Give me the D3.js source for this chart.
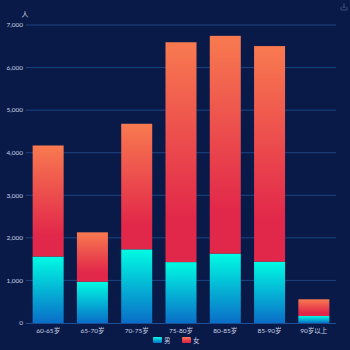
<!DOCTYPE html>
<html><head><meta charset="utf-8">
<script src="https://cdn.jsdelivr.net/npm/d3@7"></script>
<style>html,body{margin:0;padding:0;background:#0a1a48;}svg{display:block;}</style>
</head><body><svg id="c" width="350" height="350"></svg>
<script>
const categories = ["60-65岁","65-70岁","70-75岁","75-80岁","80-85岁","85-90岁","90岁以上"];
const male = [1560, 970, 1730, 1430, 1630, 1440, 165];
const female = [2610, 1160, 2950, 5165, 5115, 5065, 392];
const yTicks = [0,1000,2000,3000,4000,5000,6000,7000];
const seriesNames = ["男","女"];

const svg = d3.select("#c");
svg.append("rect").attr("width",350).attr("height",350).attr("fill","#0a1a48");
const m = {l:26, r:14, t:25, b:27};
const W = 350, H = 350;
const x = d3.scaleBand().domain(categories).range([m.l, W-m.r]).paddingInner(0.3).paddingOuter(0.15);
const y = d3.scaleLinear().domain([0,7000]).range([H-m.b, m.t]);

const defs = svg.append("defs");
const gm = defs.append("linearGradient").attr("id","gm").attr("x1",0).attr("y1",0).attr("x2",0).attr("y2",1);
gm.append("stop").attr("offset",0).attr("stop-color","#00fbe3");
gm.append("stop").attr("offset",1).attr("stop-color","#0a6ec8");
const gf = defs.append("linearGradient").attr("id","gf").attr("x1",0).attr("y1",0).attr("x2",0).attr("y2",1);
gf.append("stop").attr("offset",0).attr("stop-color","#f87a50");
gf.append("stop").attr("offset",0.8).attr("stop-color","#e2284a");
gf.append("stop").attr("offset",1).attr("stop-color","#e2284a");

// grid
svg.append("g").selectAll("line").data(yTicks.slice(1)).join("line")
  .attr("x1",m.l).attr("x2",W-m.r).attr("y1",d=>y(d)).attr("y2",d=>y(d))
  .attr("stroke","#1b4583").attr("stroke-width",1);

// y labels
svg.append("g").selectAll("text").data(yTicks).join("text")
  .attr("x",m.l-3).attr("y",d=>y(d)).attr("dy","0.35em").attr("text-anchor","end")
  .attr("font-family","Lato, sans-serif").attr("font-size",6.5).attr("fill","#c9d2e3")
  .text(d=>d3.format(",")(d));
svg.append("text").attr("x",25).attr("y",17).attr("text-anchor","middle")
  .attr("font-family","Noto Sans CJK SC").attr("font-size",7).attr("fill","#c9d2e3").text("人");

// bars
const bars = svg.append("g");
bars.selectAll("rect.m").data(categories).join("rect").attr("class","m")
  .attr("x",d=>x(d)).attr("width",x.bandwidth())
  .attr("y",(d,i)=>y(male[i])).attr("height",(d,i)=>y(0)-y(male[i]))
  .attr("fill","url(#gm)");
bars.selectAll("rect.f").data(categories).join("rect").attr("class","f")
  .attr("x",d=>x(d)).attr("width",x.bandwidth())
  .attr("y",(d,i)=>y(male[i]+female[i])).attr("height",(d,i)=>y(male[i])-y(male[i]+female[i]))
  .attr("fill","url(#gf)");

// x axis line
svg.append("line").attr("x1",m.l).attr("x2",W-m.r).attr("y1",y(0)+0.5).attr("y2",y(0)+0.5)
  .attr("stroke","#1b4f95").attr("stroke-width",1);
svg.append("g").selectAll("text").data(categories).join("text")
  .attr("x",d=>x(d)+x.bandwidth()/2).attr("y",y(0)+10).attr("text-anchor","middle")
  .attr("font-family","Lato, 'Noto Sans CJK SC', sans-serif").attr("font-size",6.5).attr("fill","#c9d2e3")
  .text(d=>d);

// legend
const lg = svg.append("g");
const lx = [153, 182];
seriesNames.forEach((n,i)=>{
  lg.append("rect").attr("x",lx[i]).attr("y",337).attr("width",9).attr("height",6).attr("rx",1)
    .attr("fill", i===0 ? "url(#gm)" : "url(#gf)");
  lg.append("text").attr("x",lx[i]+11).attr("y",342.5).attr("font-family","Noto Sans CJK SC")
    .attr("font-size",6.5).attr("fill","#c9d2e3").text(n);
});

// toolbox save icon
svg.append("path").attr("d","M341,7 L341,10 L347,10 L347,7 M344,3 L344,8 M342.5,6.5 L344,8 L345.5,6.5")
  .attr("fill","none").attr("stroke","#4a5a86").attr("stroke-width",0.8);
</script></body></html>
